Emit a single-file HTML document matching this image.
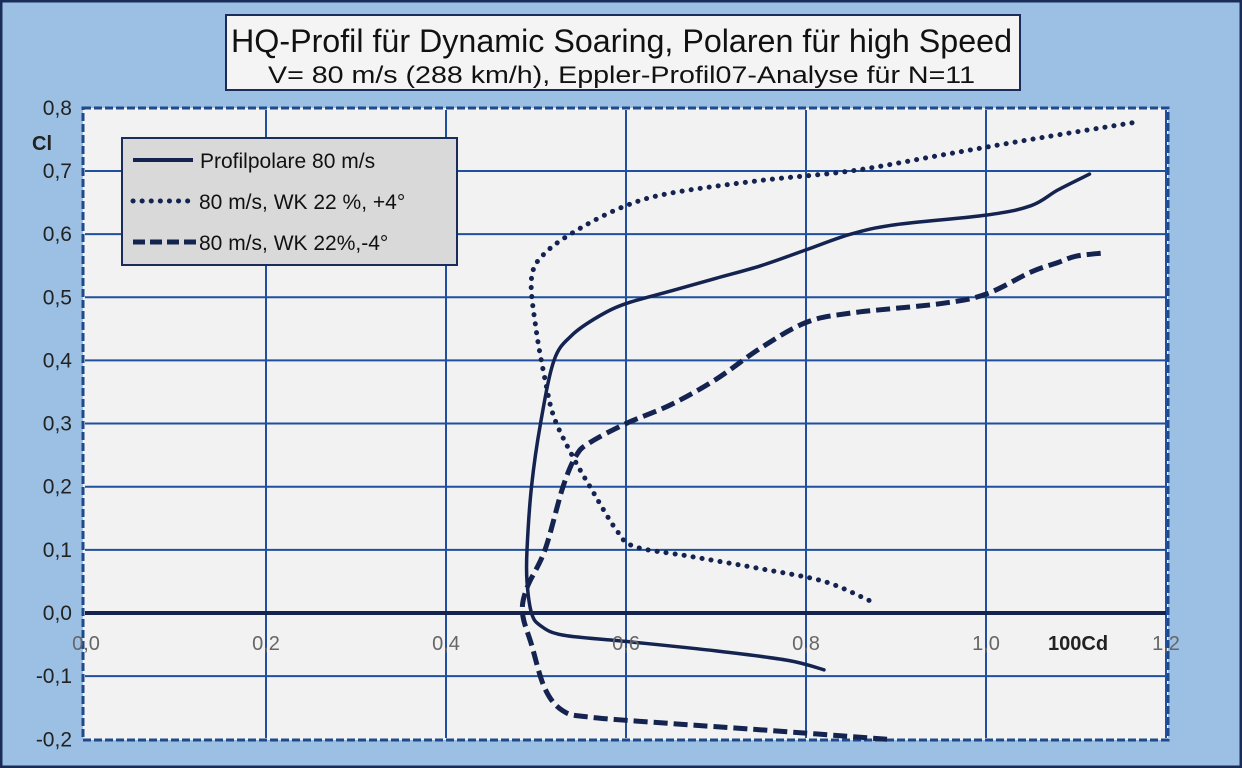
<!DOCTYPE html>
<html><head><meta charset="utf-8"><style>
body{margin:0;background:#9cc0e4;}
svg{display:block;font-family:"Liberation Sans",sans-serif;}
</style></head><body>
<svg width="1242" height="768">
<rect x="1" y="1" width="1240" height="766" fill="#9cc0e4" stroke="#1a2d5a" stroke-width="3"/>
<g>
<rect x="226" y="15" width="794" height="75" fill="#f4f4f4" stroke="#1a2d5a" stroke-width="2"/>
<text x="231" y="52" font-size="32" textLength="781" lengthAdjust="spacingAndGlyphs" fill="#111">HQ-Profil für Dynamic Soaring, Polaren für high Speed</text>
<text x="268" y="83" font-size="24" textLength="707" lengthAdjust="spacingAndGlyphs" fill="#111">V= 80 m/s (288 km/h), Eppler-Profil07-Analyse für N=11</text>
</g>
<rect x="83" y="108" width="1085" height="632" fill="#f2f2f2" stroke="#1e4a8c" stroke-width="3" stroke-dasharray="8,3"/>
<g id="grid"></g>
<g id="series"></g>
<g id="labels"></g>
<text x="32" y="150" font-size="20" font-weight="bold" fill="#222">Cl</text>
<text x="1048" y="650" font-size="20" font-weight="bold" fill="#222">100Cd</text>
<g>
<rect x="122" y="138" width="335" height="127" fill="#d9d9d9" stroke="#1a2d5a" stroke-width="2"/>
<line x1="133" y1="160" x2="193" y2="160" stroke="#14234f" stroke-width="4"/>
<text x="200" y="168" font-size="21" fill="#111">Profilpolare 80 m/s</text>
<line x1="133" y1="201" x2="188" y2="201" stroke="#14234f" stroke-width="5" stroke-dasharray="0.1,9" stroke-linecap="round"/>
<text x="199" y="209" font-size="21" fill="#111">80 m/s, WK 22 %, +4°</text>
<line x1="133" y1="242" x2="196" y2="242" stroke="#14234f" stroke-width="5" stroke-dasharray="12,5"/>
<text x="199" y="250" font-size="21" fill="#111">80 m/s, WK 22%,-4°</text>
</g>
</svg>
<script>
const xTicks=[0,0.2,0.4,0.6,0.8,1.0,1.2];
const xTickLabels=["0,0","0,2","0,4","0,6","0,8","1,0","1,2"];
const yTicks=[-0.2,-0.1,0,0.1,0.2,0.3,0.4,0.5,0.6,0.7,0.8];
const yTickLabels=["-0,2","-0,1","0,0","0,1","0,2","0,3","0,4","0,5","0,6","0,7","0,8"];
const solidX=[0.82,0.78,0.70,0.60,0.53,0.505,0.495,0.49,0.49,0.495,0.505,0.52,0.54,0.57,0.60,0.65,0.70,0.75,0.80,0.85,0.90,1.00,1.05,1.08,1.115];
const solidY=[-0.09,-0.075,-0.06,-0.045,-0.035,-0.02,0.0,0.05,0.1,0.2,0.3,0.4,0.44,0.47,0.49,0.51,0.53,0.55,0.575,0.60,0.615,0.63,0.645,0.67,0.695];
const dotX=[0.87,0.82,0.75,0.67,0.61,0.59,0.56,0.54,0.52,0.51,0.50,0.495,0.51,0.55,0.60,0.65,0.75,0.85,0.95,1.05,1.17];
const dotY=[0.02,0.05,0.07,0.09,0.105,0.13,0.2,0.25,0.31,0.37,0.45,0.53,0.57,0.61,0.645,0.665,0.685,0.70,0.725,0.75,0.778];
const dashX=[0.89,0.75,0.65,0.56,0.53,0.51,0.495,0.485,0.49,0.51,0.53,0.545,0.56,0.60,0.65,0.70,0.75,0.80,0.85,0.95,1.00,1.05,1.08,1.10,1.13];
const dashY=[-0.2,-0.185,-0.175,-0.165,-0.155,-0.12,-0.05,0.0,0.04,0.1,0.2,0.25,0.27,0.30,0.33,0.37,0.42,0.46,0.475,0.49,0.505,0.54,0.555,0.565,0.57];
const NS="http://www.w3.org/2000/svg";
const sx=v=>86+v*900;
const sy=v=>613-v*631.5;
function mk(t,a,p){const e=document.createElementNS(NS,t);for(const k in a)e.setAttribute(k,a[k]);p.appendChild(e);return e;}
const grid=document.getElementById('grid');
xTicks.forEach((v,i)=>{if(i===0)return;
 const l=mk('line',{x1:sx(v),x2:sx(v),y1:110,y2:738,stroke:'#1f4f9e','stroke-width':2},grid);
 
 });
yTicks.forEach(v=>{if(v>=0.79||v<=-0.19)return;
 const l=mk('line',{x1:85,x2:1166,y1:sy(v),y2:sy(v),stroke:v===0?'#14234f':'#1f4f9e','stroke-width':v===0?4:2},grid);
 
 });
const lab=document.getElementById('labels');
xTicks.forEach((v,i)=>{const t=mk('text',{x:sx(v),y:650,'font-size':20,'text-anchor':'middle',fill:'#666'},lab);t.textContent=xTickLabels[i];
 
 });
yTicks.forEach((v,i)=>{const t=mk('text',{x:72,y:sy(v)+7,'font-size':21,'text-anchor':'end',fill:'#222'},lab);t.textContent=yTickLabels[i];
 
 });
const ser=document.getElementById('series');
function smooth(P){let d='M'+P[0][0]+','+P[0][1];
 for(let i=0;i<P.length-1;i++){const p0=P[i-1]||P[i],p1=P[i],p2=P[i+1],p3=P[i+2]||P[i+1];
  const c1=[p1[0]+(p2[0]-p0[0])/6,p1[1]+(p2[1]-p0[1])/6],c2=[p2[0]-(p3[0]-p1[0])/6,p2[1]-(p3[1]-p1[1])/6];
  d+=' C'+c1.join(',')+' '+c2.join(',')+' '+p2.join(',');}
 return d;}
function draw(X,Y,dash,cap,name,w){const P=X.map((x,i)=>[sx(x),sy(Y[i])]);
 const p=mk('path',{d:smooth(P),fill:'none',stroke:'#14234f','stroke-width':w,'stroke-linejoin':'round','stroke-linecap':cap},ser);
 if(dash)p.setAttribute('stroke-dasharray',dash);
 
 }
draw(solidX,solidY,null,'round','series-profilpolare',3.5);
draw(dotX,dotY,'0.1,9','round','series-wk22-plus4',5);
draw(dashX,dashY,'14,6','butt','series-wk22-minus4',5);
</script>
</body></html>
